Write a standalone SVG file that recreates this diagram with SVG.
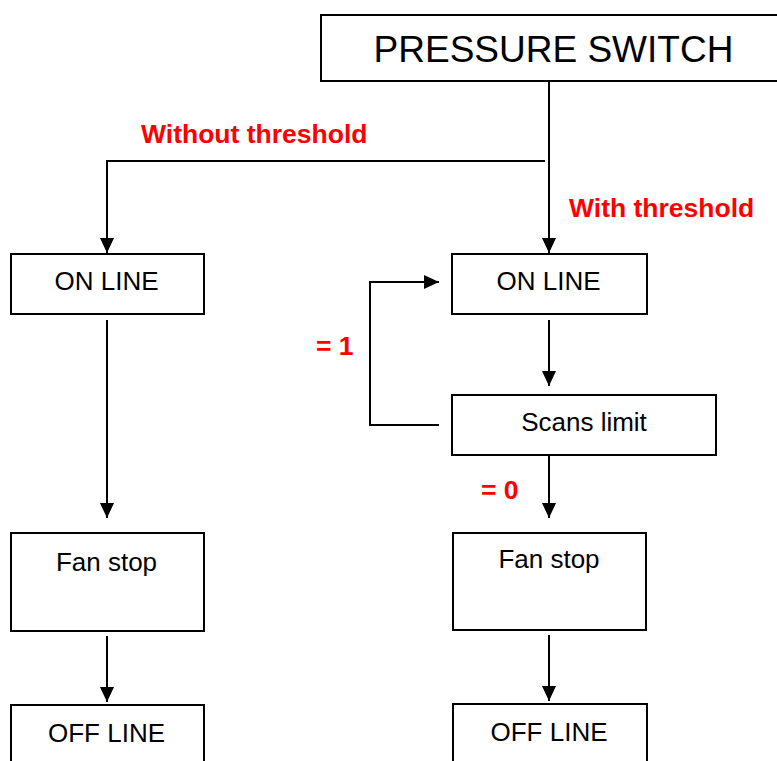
<svg xmlns="http://www.w3.org/2000/svg" width="777" height="761" viewBox="0 0 777 761">
<defs>
<style>
.box{fill:#fff;stroke:#000;stroke-width:2}
.t{font-family:"Liberation Sans",Arial,sans-serif;font-size:26px;fill:#000;text-anchor:middle}
.lbl{font-family:"Liberation Sans",Arial,sans-serif;font-size:26.5px;font-weight:bold;fill:#ff0000}
.c{fill:none;stroke:#000;stroke-width:2}
</style>
<marker id="ah" markerUnits="userSpaceOnUse" markerWidth="16" markerHeight="16" refX="15" refY="7" orient="auto" viewBox="0 0 16 14">
<path d="M0,0 L15,7 L0,14 Z" fill="#000"/>
</marker>
</defs>
<rect width="777" height="761" fill="#fff"/>
<g id="connectors">
<line class="c" x1="549" y1="81" x2="549" y2="253" marker-end="url(#ah)"/>
<path class="c" d="M545,161 H107 V253" marker-end="url(#ah)"/>
<line class="c" x1="549" y1="320" x2="549" y2="386" marker-end="url(#ah)"/>
<path class="c" d="M439,425 H370 V282 H439" marker-end="url(#ah)"/>
<line class="c" x1="549" y1="455" x2="549" y2="518" marker-end="url(#ah)"/>
<line class="c" x1="107" y1="320" x2="107" y2="518" marker-end="url(#ah)"/>
<line class="c" x1="107" y1="636" x2="107" y2="702" marker-end="url(#ah)"/>
<line class="c" x1="549" y1="635" x2="549" y2="701" marker-end="url(#ah)"/>
</g>
<g id="labels">
<text class="lbl" x="141" y="143">Without threshold</text>
<text class="lbl" x="569" y="217">With threshold</text>
<text class="lbl" x="316" y="355">= 1</text>
<text class="lbl" x="481" y="499">= 0</text>
</g>
<g id="pressure-switch">
<rect class="box" x="321" y="15" width="470" height="66"/>
<text class="t" x="553.5" y="62" style="font-size:37px">PRESSURE SWITCH</text>
</g>
<g id="online-left">
<rect class="box" x="11" y="254" width="193" height="60"/>
<text class="t" x="106.5" y="290">ON LINE</text>
</g>
<g id="online-right">
<rect class="box" x="452" y="254" width="195" height="60"/>
<text class="t" x="548.5" y="290">ON LINE</text>
</g>
<g id="scans-limit">
<rect class="box" x="452" y="395" width="264" height="60"/>
<text class="t" x="584" y="431">Scans limit</text>
</g>
<g id="fanstop-left">
<rect class="box" x="11" y="533" width="193" height="98"/>
<text class="t" x="106.5" y="571">Fan stop</text>
</g>
<g id="fanstop-right">
<rect class="box" x="453" y="533" width="193" height="97"/>
<text class="t" x="549" y="568">Fan stop</text>
</g>
<g id="offline-left">
<rect class="box" x="11" y="705" width="193" height="70"/>
<text class="t" x="106.5" y="742">OFF LINE</text>
</g>
<g id="offline-right">
<rect class="box" x="453" y="704" width="194" height="70"/>
<text class="t" x="549" y="741">OFF LINE</text>
</g>
</svg>
